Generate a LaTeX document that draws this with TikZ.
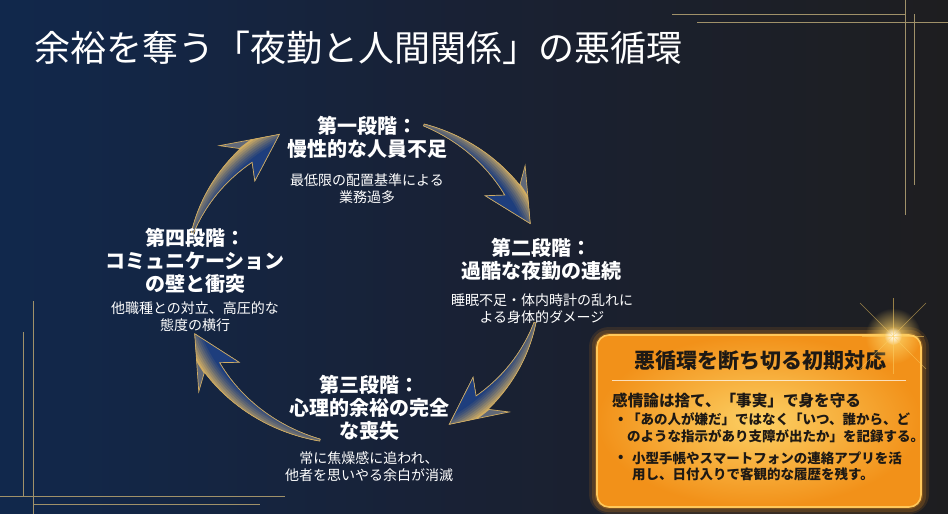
\documentclass[tikz,border=0pt]{standalone}
\usepackage{fontspec}
\setmainfont{Noto Sans CJK JP}
\usetikzlibrary{fadings}

\definecolor{bgnavy}{RGB}{17,40,76}
\definecolor{bgmid}{RGB}{25,33,52}
\definecolor{bgdark}{RGB}{30,30,32}
\definecolor{ringgold}{RGB}{208,172,98}
\definecolor{ringblue}{RGB}{30,62,125}
\definecolor{ringgrey}{RGB}{96,104,120}
\definecolor{linegold}{RGB}{160,145,105}
\definecolor{boxlight}{RGB}{252,208,100}
\definecolor{boxdeep}{RGB}{242,145,25}
\definecolor{boxedge}{RGB}{255,200,90}
\definecolor{boxink}{RGB}{30,25,20}

\tikzfading[name=glowfade, inner color=transparent!0, outer color=transparent!100]

\newcommand{\ringx}{363}
\newcommand{\ringy}{280}
\newcommand{\ringrx}{178}
\newcommand{\ringry}{165}
% tail angle, head base angle, tip angle
\newcommand{\arrowpath}[3]{plot[domain=#1:#2,samples=24] ({\ringx+(\ringrx+1+8*(\x-#1)/(#2-#1))*cos(\x)},{\ringy+(\ringry+1+8*(\x-#1)/(#2-#1))*sin(\x)})
  -- ({\ringx+(\ringrx+25)*cos(#2-4)},{\ringy+(\ringry+25)*sin(#2-4)})
  -- ({\ringx+\ringrx*cos(#3)},{\ringy+\ringry*sin(#3)})
  -- ({\ringx+(\ringrx-25)*cos(#2-4)},{\ringy+(\ringry-25)*sin(#2-4)})
  -- plot[domain=#2:#1,samples=24] ({\ringx+(\ringrx-1-8*(\x-#1)/(#2-#1))*cos(\x)},{\ringy+(\ringry-1-8*(\x-#1)/(#2-#1))*sin(\x)})
  -- cycle}
% gold outside, blue inside
\newcommand{\ringbands}{%
  \fill[ringgrey] (\ringx,\ringy) ellipse [x radius=212,y radius=199];
  \fill[ringgold] (\ringx,\ringy) ellipse [x radius=188,y radius=175];
  \fill[ringgold!86!ringblue] (\ringx,\ringy) ellipse [x radius=186,y radius=173];
  \fill[ringgold!72!ringblue] (\ringx,\ringy) ellipse [x radius=184,y radius=171];
  \fill[ringgold!58!ringblue] (\ringx,\ringy) ellipse [x radius=182,y radius=169];
  \fill[ringgold!44!ringblue] (\ringx,\ringy) ellipse [x radius=180,y radius=167];
  \fill[ringgold!32!ringblue] (\ringx,\ringy) ellipse [x radius=178,y radius=165];
  \fill[ringgold!20!ringblue] (\ringx,\ringy) ellipse [x radius=176,y radius=163];
  \fill[ringgold!10!ringblue] (\ringx,\ringy) ellipse [x radius=174,y radius=161];
  \fill[ringblue] (\ringx,\ringy) ellipse [x radius=172,y radius=159];}

\begin{document}
\begin{tikzpicture}[x=1pt,y=-1pt,
  cornerline/.style={linegold,line width=0.9pt},
  arrowedge/.style={ringgold,line width=0.7pt},
  stagehead/.style={text=white,font=\fontsize{20}{23}\selectfont\bfseries,align=center,inner sep=0pt},
  stagenote/.style={text=white,font=\fontsize{14}{17}\selectfont,align=center,inner sep=0pt},
  boxtext/.style={text=boxink,font=\fontsize{13.5}{16.5}\selectfont\bfseries,align=left,inner sep=0pt,anchor=west},
  sparkray/.style={boxlight,opacity=0.55,line width=0.6pt}]
\useasboundingbox (0,0) rectangle (948,514);
\shade[left color=bgnavy,right color=bgdark,middle color=bgmid] (0,0) rectangle (948,514);

% frame lines in the corners
\draw[cornerline] (672,14) -- (905,14);
\draw[cornerline] (697,22) -- (948,22);
\draw[cornerline] (905,0) -- (905,215);
\draw[cornerline] (914,14) -- (914,185);
\draw[cornerline] (0,496) -- (285,496);
\draw[cornerline] (33,504) -- (260,504);
\draw[cornerline] (33,301) -- (33,514);
\draw[cornerline] (23,332) -- (23,496);

\node[anchor=west,text=white,font=\fontsize{36}{40}\selectfont,inner sep=0pt] (title) at (34,48) {余裕を奪う「夜勤と人間関係」の悪循環};

% the cycle
\begin{scope}
\clip \arrowpath{196}{229}{242};
\ringbands
\end{scope}
\draw[arrowedge] \arrowpath{196}{229}{242};
\begin{scope}
\clip \arrowpath{290}{327}{340};
\ringbands
\end{scope}
\draw[arrowedge] \arrowpath{290}{327}{340};
\begin{scope}
\clip \arrowpath{15}{48}{61};
\ringbands
\end{scope}
\draw[arrowedge] \arrowpath{15}{48}{61};
\begin{scope}
\clip \arrowpath{104}{148}{161};
\ringbands
\end{scope}
\draw[arrowedge] \arrowpath{104}{148}{161};

\node[stagehead] (stageone) at (367,137.5) {第一段階：\\慢性的な人員不足};
\node[stagenote] (stageonenote) at (367,188.5) {最低限の配置基準による\\業務過多};
\node[stagehead] (stagetwo) at (541,259) {第二段階：\\過酷な夜勤の連続};
\node[stagenote] (stagetwonote) at (542,309) {睡眠不足・体内時計の乱れに\\よる身体的ダメージ};
\node[stagehead] (stagethree) at (369,407.5) {第三段階：\\心理的余裕の完全\\な喪失};
\node[stagenote] (stagethreenote) at (369,466.5) {常に焦燥感に追われ、\\他者を思いやる余白が消滅};
\node[stagehead] (stagefour) at (195,261) {第四段階：\\コミュニケーション\\の壁と衝突};
\node[stagenote] (stagefournote) at (195,316.5) {他職種との対立、高圧的な\\態度の横行};

% orange box
\fill[boxdeep,opacity=0.12,rounded corners=20pt] (589,327) rectangle (929,514);
\fill[boxdeep,opacity=0.18,rounded corners=16pt] (592,330) rectangle (926,512);
\fill[boxdeep,opacity=0.25,rounded corners=14pt] (595,333) rectangle (923,509);
\shade[inner color=boxlight,outer color=boxdeep,rounded corners=12pt] (597,335) rectangle (921,507);
\draw[boxedge,line width=1.6pt,rounded corners=12pt] (597,335) rectangle (921,507);
\node[text=boxink,font=\fontsize{21}{24}\selectfont\bfseries,inner sep=0pt] (boxtitle) at (760,361) {悪循環を断ち切る初期対応};
\draw[white,opacity=0.7,line width=0.8pt] (612,380) -- (906,380);
\node[boxtext,font=\fontsize{15.6}{18}\selectfont\bfseries] (boxlead) at (612,400) {感情論は捨て、「事実」で身を守る};
\node[boxtext] (dotone) at (618,420) {•};
\node[boxtext] (tipone) at (627,427.5) {「あの人が嫌だ」ではなく「いつ、誰から、ど\\のような指示があり支障が出たか」を記録する。};
\node[boxtext] (dottwo) at (618,458) {•};
\node[boxtext] (tiptwo) at (632,466.5) {小型手帳やスマートフォンの連絡アプリを活\\用し、日付入りで客観的な履歴を残す。};

% sparkle on the corner
\fill[boxlight,path fading=glowfade] (893,336) circle (28);
\fill[white,path fading=glowfade] (893,336) circle (9);
\draw[sparkray] (893,298) -- (893,374);
\draw[sparkray] (860,303) -- (926,369);
\draw[sparkray] (926,303) -- (860,369);
\draw[sparkray] (862,336) -- (924,336);
\end{tikzpicture}
\end{document}
